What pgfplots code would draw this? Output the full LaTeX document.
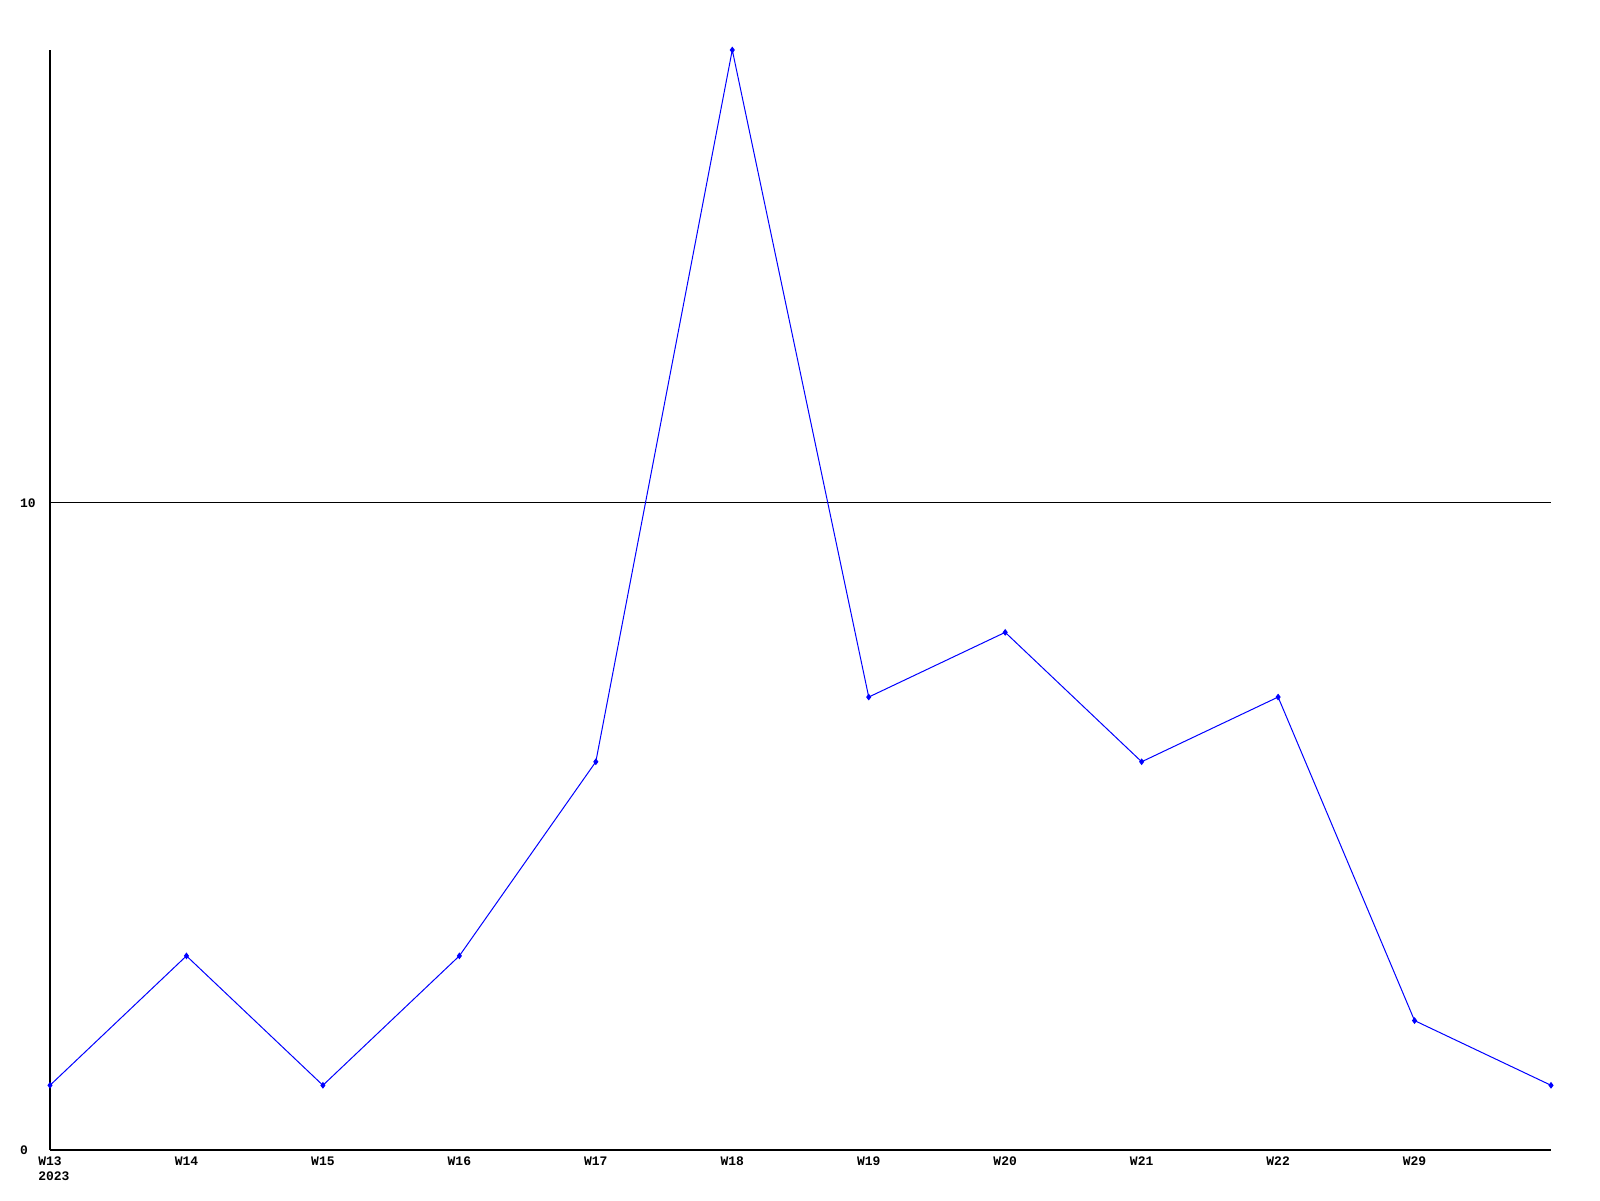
\documentclass[border=0pt]{standalone}
\usepackage{pgfplots}
\pgfplotsset{compat=1.18}
\usepackage{fontspec}
\setmainfont{Liberation Mono}
\begin{document}
\begin{tikzpicture}
\useasboundingbox (0,0) rectangle (800pt,600pt);
\begin{axis}[
  at={(25pt,25pt)}, anchor=south west,
  scale only axis, width=750.5pt, height=550pt,
  xmin=0, xmax=11, ymin=0, ymax=17,
  axis x line*=bottom, axis y line*=left,
  axis line style={line width=0.6pt, -},
  xtick={0,...,10},
  xticklabels={{W13\\\rlap{2023}\phantom{W13}},W14,W15,W16,W17,W18,W19,W20,W21,W22,W29},
  ytick={0,10},
  major tick length=0pt,
  ymajorgrids, grid style={black, line width=0.5pt},
  tick label style={font=\fontsize{6.5}{7.5}\selectfont\bfseries},
  xticklabel style={align=left, yshift=0pt},
  yticklabel style={anchor=east, inner sep=0pt, text width=10pt, align=left, xshift=-4.8pt},
  /pgf/number format/assume math mode=true,
  clip=false,
]
\addplot[blue, line width=0.5pt, mark=diamond*, mark size=1.3pt, mark options={fill=blue}]
coordinates {(0,1) (1,3) (2,1) (3,3) (4,6) (5,17) (6,7) (7,8) (8,6) (9,7) (10,2) (11,1)};
\end{axis}
\end{tikzpicture}
\end{document}
